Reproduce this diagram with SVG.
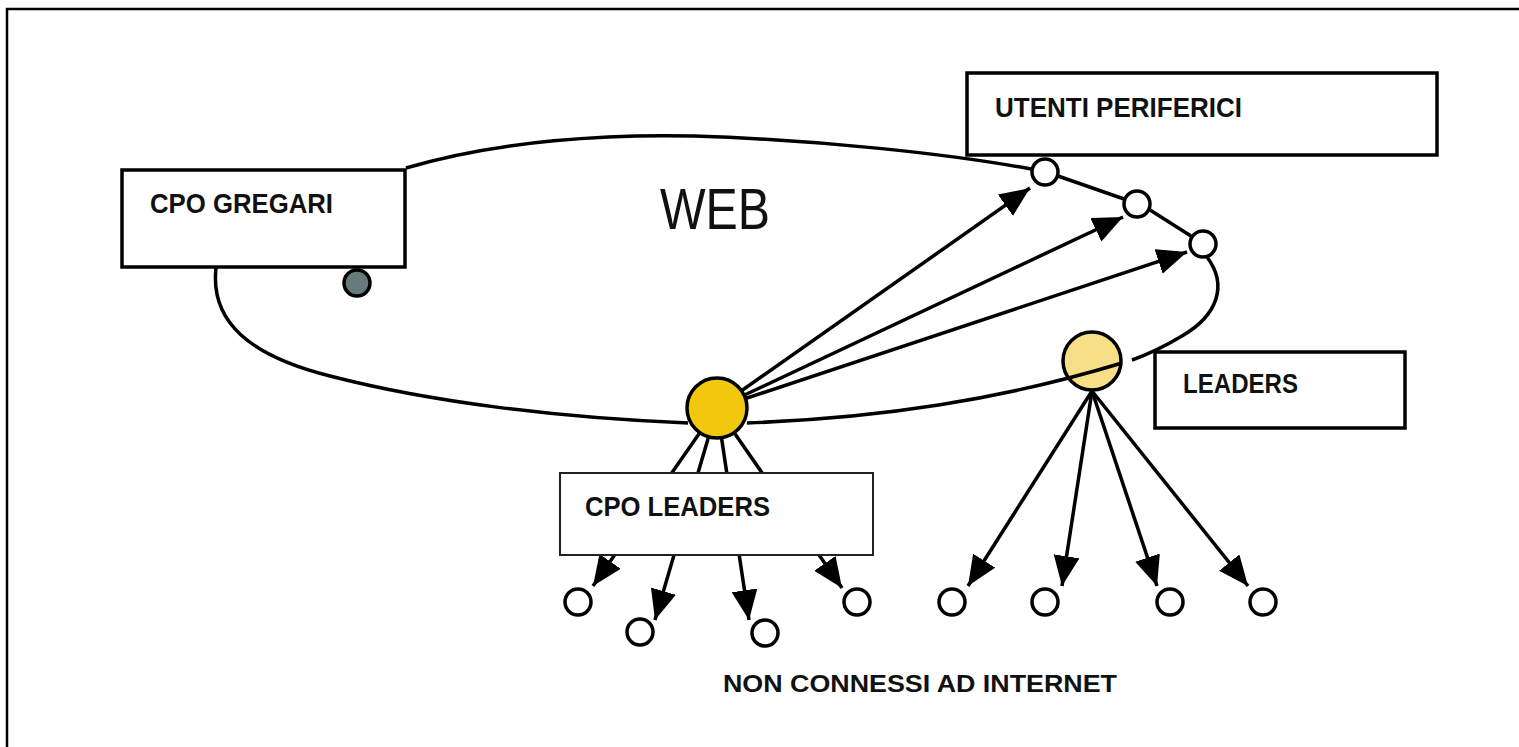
<svg xmlns="http://www.w3.org/2000/svg" width="1519" height="747" viewBox="0 0 1519 747">
  <style>
    .box { fill: #ffffff; stroke: #000000; stroke-width: 3.5; }
    .thin { fill: #ffffff; stroke: #222222; stroke-width: 2; }
    .lbl { font-family: "Liberation Sans", Arial, sans-serif; font-weight: bold; font-size: 28px; fill: #111111; }
    .web { font-family: "Liberation Sans", Arial, sans-serif; font-size: 58px; fill: #111111; }
    .line { fill: none; stroke: #000000; stroke-width: 3.5; }
    .arrow { fill: none; stroke: #000000; stroke-width: 3.5; marker-end: url(#head); }
    .dot { fill: #ffffff; stroke: #000000; stroke-width: 3.5; }
  </style>
  <defs>
    <marker id="head" markerUnits="userSpaceOnUse" markerWidth="32" markerHeight="28" refX="30" refY="13" orient="auto">
      <path d="M0,0 L30,13 L0,26 Z" fill="#000000"/>
    </marker>
  </defs>

  <rect width="1519" height="747" fill="#ffffff"/>
  <!-- frame -->
  <path d="M7,747 V9 H1519" fill="none" stroke="#000000" stroke-width="2.5"/>

  <!-- leaders node sits under the web outline that crosses it -->
  <g id="leaders-dot">
    <circle cx="1092" cy="361" r="29" fill="#F6DF86" stroke="#000000" stroke-width="3.5"/>
  </g>

  <g id="connectors">
    <!-- WEB outline -->
    <path class="line" d="M406,168 C 500,140 610,134 694,136 C 820,140 950,154 1031,169"/>
    <path class="line" d="M1058,176 L1124,199"/>
    <path class="line" d="M1150,210 L1191,236"/>
    <path class="line" d="M1207,257 C 1228,285 1218,315 1182,336 C 1162,348 1146,355 1132,360"/>
    <path class="line" d="M216,268 C 210,322 250,356 330,376 C 430,402 560,418 688,423"/>
    <path class="line" d="M747,423 C 880,418 1000,400 1122,363"/>

    <!-- CPO leaders to peripheral users -->
    <path class="arrow" d="M717,408 L1030,188"/>
    <path class="arrow" d="M717,408 L1123,217"/>
    <path class="arrow" d="M717,408 L1187,252"/>

    <!-- CPO leaders to offline users -->
    <path class="arrow" d="M717,408 L593,586"/>
    <path class="arrow" d="M717,408 L655,620"/>
    <path class="arrow" d="M717,408 L749,620"/>
    <path class="arrow" d="M717,408 L842,588"/>

    <!-- leaders to offline users -->
    <path class="arrow" d="M1092,391 L968,586"/>
    <path class="arrow" d="M1092,391 L1062,586"/>
    <path class="arrow" d="M1092,391 L1157,586"/>
    <path class="arrow" d="M1092,391 L1248,586"/>
  </g>

  <g id="cpo-gregari">
    <rect class="box" x="122" y="170" width="283" height="97"/>
    <text class="lbl" x="150" y="213" textLength="183" lengthAdjust="spacingAndGlyphs">CPO GREGARI</text>
    <circle cx="357" cy="283" r="13" fill="#66797B" stroke="#000000" stroke-width="3.5"/>
  </g>

  <g id="web">
    <text class="web" x="660" y="229" textLength="110" lengthAdjust="spacingAndGlyphs">WEB</text>
  </g>

  <g id="utenti-periferici">
    <rect class="box" x="967" y="73" width="470" height="82"/>
    <text class="lbl" x="995" y="117" textLength="247" lengthAdjust="spacingAndGlyphs">UTENTI PERIFERICI</text>
    <circle class="dot" cx="1045" cy="172" r="13"/>
    <circle class="dot" cx="1137" cy="204" r="13"/>
    <circle class="dot" cx="1203" cy="244" r="13"/>
  </g>

  <g id="cpo-leaders">
    <circle cx="717" cy="408" r="30" fill="#F2C80F" stroke="#000000" stroke-width="3.5"/>
    <rect class="thin" x="560" y="473" width="313" height="82"/>
    <text class="lbl" x="585" y="516" textLength="185" lengthAdjust="spacingAndGlyphs">CPO LEADERS</text>
  </g>

  <g id="leaders">
    <rect class="box" x="1155" y="352" width="250" height="76"/>
    <text class="lbl" x="1183" y="393" textLength="115" lengthAdjust="spacingAndGlyphs">LEADERS</text>
  </g>

  <g id="non-connessi">
    <circle class="dot" cx="578" cy="602" r="13"/>
    <circle class="dot" cx="640" cy="632" r="13"/>
    <circle class="dot" cx="765" cy="633" r="13"/>
    <circle class="dot" cx="857" cy="602" r="13"/>
    <circle class="dot" cx="952" cy="602" r="13"/>
    <circle class="dot" cx="1045" cy="602" r="13"/>
    <circle class="dot" cx="1170" cy="602" r="13"/>
    <circle class="dot" cx="1263" cy="602" r="13"/>
    <text class="lbl" x="723" y="692" textLength="394" lengthAdjust="spacingAndGlyphs" style="font-size:23px">NON CONNESSI AD INTERNET</text>
  </g>
</svg>
